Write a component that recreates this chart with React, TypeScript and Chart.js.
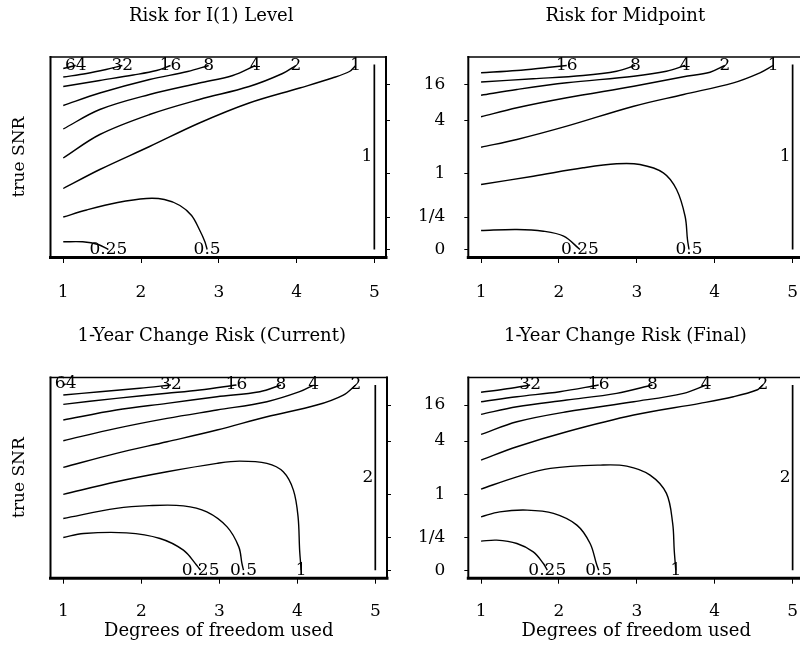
import React, { useEffect, useRef } from 'react';
import { Chart, registerables } from 'chart.js';

Chart.register(...registerables);

type Pt = [number, number];

// ---- axis ticks ----
const xTicks = [1, 2, 3, 4, 5];
const snrTickPos = [0, 32.5, 76, 129, 165];
const snrTickLabels = ['0', '1/4', '1', '4', '16'];

// ---- Panel A: Risk for I(1) Level ----
const a64: Pt[] = [[1.0, 181], [1.08, 182.5], [1.16, 184]];
const a32: Pt[] = [[1.0, 172.5], [1.3, 176], [1.55, 180], [1.76, 184]];
const a16: Pt[] = [[1.0, 163], [1.47, 169], [1.9, 174.5], [2.2, 179], [2.38, 184]];
const a8: Pt[] = [[1.0, 144], [1.47, 156.5], [2.11, 170], [2.6, 178], [2.87, 184]];
const a4: Pt[] = [[1.0, 120.5], [1.47, 140], [2.11, 155], [2.75, 166.5], [3.18, 174], [3.47, 184]];
const a2: Pt[] = [[1.0, 91.5], [1.47, 115], [2.11, 135], [2.75, 150], [3.39, 163], [3.82, 176], [3.99, 184]];
const a1: Pt[] = [[1.0, 61], [1.47, 80], [2.11, 103], [2.75, 126.5], [3.39, 146.5], [4.04, 161.5], [4.46, 171.5], [4.68, 178], [4.76, 184]];
const a05: Pt[] = [[1.0, 32.5], [1.3, 39.5], [1.7, 47], [2.07, 51], [2.3, 50], [2.5, 44], [2.65, 34], [2.75, 20], [2.82, 8], [2.85, 0]];
const a025: Pt[] = [[1.0, 7.7], [1.25, 7.7], [1.45, 5], [1.58, 0]];
const aEdge: Pt[] = [[5, 185], [5, 0]];

// ---- Panel B: Risk for Midpoint ----
const b16: Pt[] = [[1.0, 176.7], [1.46, 179], [1.85, 182], [2.1, 184]];
const b8: Pt[] = [[1.0, 167.5], [1.67, 170.7], [2.31, 174], [2.74, 178.3], [2.98, 184]];
const b4: Pt[] = [[1.0, 154.3], [1.46, 160], [2.1, 166.7], [2.96, 173.3], [3.38, 178.3], [3.62, 184]];
const b2: Pt[] = [[1.0, 132.7], [1.46, 141.7], [2.1, 151.7], [2.96, 163.3], [3.6, 172.7], [3.94, 177.3], [4.13, 184]];
const b1: Pt[] = [[1.0, 102.3], [1.46, 110], [2.1, 123.3], [2.96, 143.3], [3.6, 155], [4.24, 166.7], [4.58, 176.7], [4.75, 184]];
const b05: Pt[] = [[1.0, 65], [1.67, 73.3], [2.31, 81.7], [2.74, 85.7], [3.04, 85], [3.34, 76.7], [3.51, 60], [3.62, 33], [3.65, 10], [3.67, 0]];
const b025: Pt[] = [[1.0, 19], [1.46, 20], [1.8, 18.3], [2.06, 13.3], [2.27, 0]];
const bEdge: Pt[] = [[5, 185], [5, 0]];

// ---- Panel C: 1-Year Change Risk (Current) ----
const c64: Pt[] = [[1.0, 185], [1.03, 186]];
const c32: Pt[] = [[1.0, 175], [1.47, 178.3], [1.98, 181.7], [2.38, 185]];
const c16: Pt[] = [[1.0, 165.7], [1.68, 171.7], [2.33, 176.7], [2.75, 180], [3.22, 185]];
const c8: Pt[] = [[1.0, 150], [1.68, 160], [2.33, 166.7], [2.97, 173.3], [3.52, 178.3], [3.79, 185]];
const c4: Pt[] = [[1.0, 129.3], [1.68, 141.7], [2.33, 151.7], [2.97, 160], [3.61, 168.3], [4.03, 178.3], [4.21, 185]];
const c2: Pt[] = [[1.0, 102.7], [1.68, 116.7], [2.33, 128.3], [2.97, 140], [3.61, 153.3], [4.25, 165], [4.59, 175], [4.75, 185]];
const c1: Pt[] = [[1.0, 75.7], [1.68, 88.3], [2.33, 98.3], [2.97, 106.7], [3.26, 109], [3.61, 106.7], [3.82, 98.3], [3.95, 80], [4.01, 53.3], [4.03, 20], [4.05, 0]];
const c05: Pt[] = [[1.0, 51.7], [1.68, 61.7], [2.1, 64.5], [2.54, 64.3], [2.84, 58.3], [3.1, 43.3], [3.25, 23.3], [3.29, 6.7], [3.31, 0]];
const c025: Pt[] = [[1.0, 32.7], [1.26, 36.7], [1.81, 37.3], [2.24, 31.7], [2.54, 20], [2.71, 5], [2.76, 0]];
const cEdge: Pt[] = [[5, 185], [5, 0]];

// ---- Panel D: 1-Year Change Risk (Final) ----
const d32: Pt[] = [[1.0, 177.7], [1.29, 180.7], [1.63, 185]];
const d16: Pt[] = [[1.0, 168.3], [1.46, 173.3], [2.01, 178.3], [2.51, 185]];
const d8: Pt[] = [[1.0, 155.7], [1.46, 163.3], [2.1, 170], [2.74, 176.7], [3.2, 185]];
const d4: Pt[] = [[1.0, 135.7], [1.46, 148.3], [2.1, 158.3], [2.96, 168.3], [3.6, 176.7], [3.89, 185]];
const d2: Pt[] = [[1.0, 110], [1.46, 123.3], [2.1, 138.3], [2.96, 155], [3.81, 166.7], [4.24, 173.3], [4.54, 180], [4.62, 185]];
const d1: Pt[] = [[1.0, 81], [1.46, 93.3], [1.89, 101.7], [2.53, 105], [2.87, 104], [3.17, 95], [3.38, 76.7], [3.46, 46.7], [3.48, 20], [3.5, 0]];
const d05: Pt[] = [[1.0, 53.3], [1.24, 58.3], [1.59, 60], [1.93, 56.7], [2.23, 45], [2.4, 26.7], [2.48, 6.7], [2.51, 0]];
const d025: Pt[] = [[1.0, 29], [1.2, 30], [1.46, 26.7], [1.67, 18.3], [1.8, 6.7], [1.85, 0]];
const dEdge: Pt[] = [[5, 185], [5, 0]];

type Contour = { level: string; pts: Pt[]; side?: boolean };
type PanelSpec = {
  title: string;
  contours: Contour[];
  rightCol: boolean;
  bottomRow: boolean;
};

const panels: PanelSpec[] = [
  {
    title: 'Risk for I(1) Level', rightCol: false, bottomRow: false,
    contours: [
      { level: '64', pts: a64 }, { level: '32', pts: a32 }, { level: '16', pts: a16 },
      { level: '8', pts: a8 }, { level: '4', pts: a4 }, { level: '2', pts: a2 },
      { level: '1', pts: a1 }, { level: '0.5', pts: a05 }, { level: '0.25', pts: a025 },
      { level: '1', pts: aEdge, side: true },
    ],
  },
  {
    title: 'Risk for Midpoint', rightCol: true, bottomRow: false,
    contours: [
      { level: '16', pts: b16 }, { level: '8', pts: b8 }, { level: '4', pts: b4 },
      { level: '2', pts: b2 }, { level: '1', pts: b1 }, { level: '0.5', pts: b05 },
      { level: '0.25', pts: b025 }, { level: '1', pts: bEdge, side: true },
    ],
  },
  {
    title: '1-Year Change Risk (Current)', rightCol: false, bottomRow: true,
    contours: [
      { level: '64', pts: c64 }, { level: '32', pts: c32 }, { level: '16', pts: c16 },
      { level: '8', pts: c8 }, { level: '4', pts: c4 }, { level: '2', pts: c2 },
      { level: '1', pts: c1 }, { level: '0.5', pts: c05 }, { level: '0.25', pts: c025 },
      { level: '2', pts: cEdge, side: true },
    ],
  },
  {
    title: '1-Year Change Risk (Final)', rightCol: true, bottomRow: true,
    contours: [
      { level: '32', pts: d32 }, { level: '16', pts: d16 }, { level: '8', pts: d8 },
      { level: '4', pts: d4 }, { level: '2', pts: d2 }, { level: '1', pts: d1 },
      { level: '0.5', pts: d05 }, { level: '0.25', pts: d025 },
      { level: '2', pts: dEdge, side: true },
    ],
  },
];

const FAMILY = '"DejaVu Serif", serif';
const FONT = { family: FAMILY, size: 17 };
const BIG_FONT = { family: FAMILY, size: 18 };

const contourLabelPlugin = {
  id: 'contourLabels',
  afterDatasetsDraw(chart: any) {
    const { ctx, scales, chartArea } = chart;
    const xs = scales.x;
    const ys = scales.y;
    const opts = chart.options.plugins.contourLabels || {};
    ctx.save();
    // frame
    ctx.strokeStyle = '#000';
    ctx.lineCap = 'square';
    const { left, right, top, bottom } = chartArea;
    ctx.lineWidth = 1.5;
    ctx.beginPath(); ctx.moveTo(left, top); ctx.lineTo(right, top); ctx.stroke();
    ctx.lineWidth = 2;
    ctx.beginPath(); ctx.moveTo(right, top); ctx.lineTo(right, bottom); ctx.stroke();
    ctx.beginPath(); ctx.moveTo(left, top); ctx.lineTo(left, bottom); ctx.stroke();
    ctx.lineWidth = 3;
    ctx.beginPath(); ctx.moveTo(left, bottom + 0.5); ctx.lineTo(right, bottom + 0.5); ctx.stroke();

    // panel title
    ctx.fillStyle = '#000';
    ctx.textBaseline = 'middle';
    ctx.textAlign = 'center';
    ctx.font = `18px ${FAMILY}`;
    ctx.fillText(opts.title || '', (left + right) / 2 + (opts.titleShift || 0), top - 41);

    // contour labels
    ctx.font = `17px ${FAMILY}`;
    chart.data.datasets.forEach((ds: any) => {
      const pts = ds.data;
      const first = pts[0];
      const last = pts[pts.length - 1];
      if (ds.labelSide) {
        ctx.textAlign = 'right';
        ctx.fillText(ds.label, xs.getPixelForValue(last.x) - 2, ys.getPixelForValue((first.y + last.y) / 2));
      } else {
        ctx.textAlign = 'center';
        ctx.fillText(ds.label, xs.getPixelForValue(last.x), ys.getPixelForValue(last.y));
      }
    });
    ctx.restore();
  },
};

function makeConfig(p: PanelSpec): any {
  const scales: any = {
    x: {
      type: 'linear',
      position: 'bottom',
      min: 0.836,
      max: 5.15,
      afterBuildTicks: (s: any) => { s.ticks = xTicks.map((v) => ({ value: v })); },
      afterFit: (s: any) => { s.height = p.bottomRow ? 68.3 : 66; },
      grid: { display: true, drawOnChartArea: false, drawTicks: true, tickLength: 6, color: '#000', lineWidth: 1 },
      border: { display: false },
      ticks: {
        color: '#000',
        font: FONT,
        padding: p.bottomRow ? 17.3 : 19.8,
        maxRotation: 0,
        autoSkip: false,
        callback: (v: any) => String(v),
      },
      title: {
        display: p.bottomRow,
        text: 'Degrees of freedom used',
        color: '#000',
        font: BIG_FONT,
        padding: { top: 0, bottom: 3.4 },
      },
    },
    y: {
      type: 'linear',
      position: p.rightCol ? 'left' : 'right',
      min: -7.5,
      max: 192.5,
      afterBuildTicks: (s: any) => { s.ticks = snrTickPos.map((v) => ({ value: v })); },
      afterFit: (s: any) => { s.width = p.rightCol ? 68.3 : 13; },
      grid: { display: true, drawOnChartArea: false, drawTicks: true, tickLength: 4, color: '#000', lineWidth: 1 },
      border: { display: false },
      ticks: {
        display: p.rightCol,
        color: '#000',
        font: FONT,
        padding: 19,
        autoSkip: false,
        callback: (_v: any, i: number) => snrTickLabels[i],
      },
    },
  };
  if (!p.rightCol) {
    scales.yt = {
      type: 'linear',
      position: 'left',
      min: 0,
      max: 1,
      afterFit: (s: any) => { s.width = 50.5; },
      grid: { display: false },
      border: { display: false },
      ticks: { display: false },
      title: {
        display: true,
        text: 'true SNR',
        color: '#000',
        font: FONT,
        padding: { top: 9.3, bottom: 0 },
      },
    };
  }
  return {
    type: 'scatter',
    data: {
      datasets: p.contours.map((c) => ({
        label: c.level,
        data: c.pts.map(([x, y]) => ({ x, y })),
        xAxisID: 'x',
        yAxisID: 'y',
        showLine: true,
        pointRadius: 0,
        pointHoverRadius: 0,
        borderColor: '#000',
        borderWidth: c.side ? 1.7 : 1.4,
        tension: 0.35,
        fill: false,
        labelSide: !!c.side,
      })),
    },
    options: {
      animation: false,
      responsive: false,
      events: [],
      layout: {
        autoPadding: false,
        padding: { top: p.bottomRow ? 54.5 : 57, left: 0, bottom: 0, right: p.rightCol ? 15.7 : 0 },
      },
      plugins: {
        legend: { display: false },
        tooltip: { enabled: false },
        title: { display: false },
        contourLabels: { title: p.title, titleShift: p.rightCol ? -11 : -7 },
      },
      scales,
    },
    plugins: [contourLabelPlugin],
  };
}

function Panel({ spec, left, top, width, height }: { spec: PanelSpec; left: number; top: number; width: number; height: number }) {
  const ref = useRef<HTMLCanvasElement>(null);
  useEffect(() => {
    const chart = new Chart(ref.current as HTMLCanvasElement, makeConfig(spec));
    return () => chart.destroy();
  }, [spec]);
  return (
    <canvas
      ref={ref}
      width={width}
      height={height}
      style={{ position: 'absolute', left, top, width, height }}
    />
  );
}

export default function App() {
  return (
    <div
      style={{
        position: 'fixed',
        left: 0,
        top: 0,
        width: 800,
        height: 646,
        overflow: 'hidden',
        background: '#fff',
      }}
    >
      <Panel spec={panels[0]} left={0} top={0} width={400} height={323} />
      <Panel spec={panels[1]} left={400} top={0} width={420} height={323} />
      <Panel spec={panels[2]} left={0} top={323} width={400} height={323} />
      <Panel spec={panels[3]} left={400} top={323} width={420} height={323} />
    </div>
  );
}
